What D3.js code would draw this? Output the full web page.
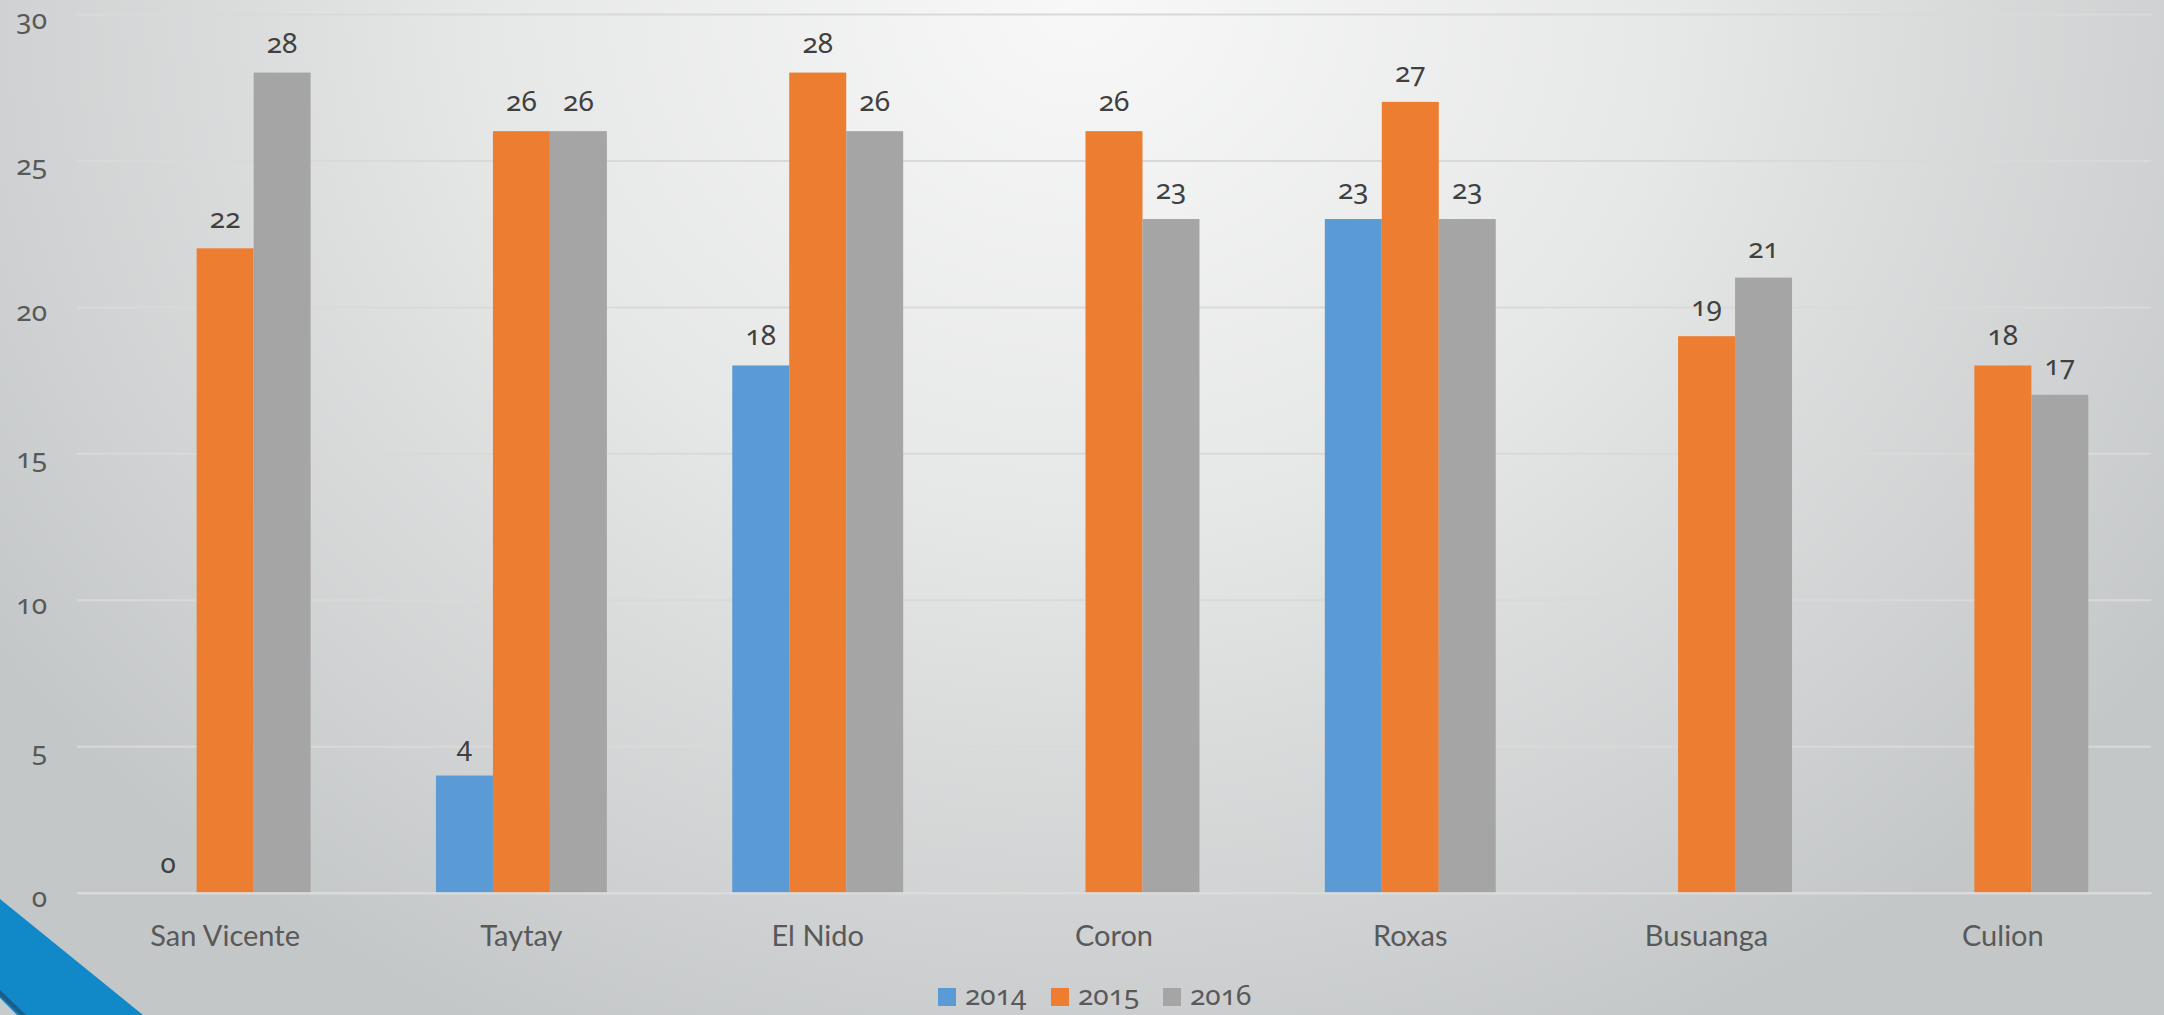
<!DOCTYPE html>
<html>
<head>
<meta charset="utf-8">
<script src="https://cdn.jsdelivr.net/npm/d3@7/dist/d3.min.js"></script>
<style>
  html, body { margin: 0; padding: 0; overflow: hidden; }
  svg { display: block; }
  text { font-family: Lato, "Noto Sans", sans-serif; }
  text.num { font-family: "Noto Sans", "Open Sans", sans-serif; font-variant-numeric: oldstyle-nums; font-feature-settings: "onum" 1; }
</style>
</head>
<body>
<script>
const categories = ["San Vicente", "Taytay", "El Nido", "Coron", "Roxas", "Busuanga", "Culion"];
const seriesNames = ["2014", "2015", "2016"];
const values2014 = [0, 4, 18, null, 23, null, null];
const values2015 = [22, 26, 28, 26, 27, 19, 18];
const values2016 = [28, 26, 26, 23, 23, 21, 17];
const yTicks = [0, 5, 10, 15, 20, 25, 30];
const colors = ["#5B9BD5", "#ED7D31", "#A5A5A5"];

const seriesValues = [values2014, values2015, values2016];
const W = 2164, H = 1015;
const plot = { left: 77, right: 2151, top: 14, bottom: 892.7 };

const svg = d3.select("body").append("svg").attr("width", W).attr("height", H);
const defs = svg.append("defs");
const grad = defs.append("radialGradient").attr("id", "bg")
  .attr("gradientUnits", "userSpaceOnUse")
  .attr("cx", W * 0.5).attr("cy", 0).attr("r", 1150)
  .attr("gradientTransform", `translate(${W*0.5},0) scale(1.15,1) translate(${-W*0.5},0)`);
grad.append("stop").attr("offset", "0%").attr("stop-color", "#f8f8f8");
grad.append("stop").attr("offset", "45%").attr("stop-color", "#e6e7e7");
grad.append("stop").attr("offset", "100%").attr("stop-color", "#c4c7c8");
svg.append("rect").attr("width", W).attr("height", H).attr("fill", "url(#bg)");

// corner decoration
svg.append("polygon").attr("points", "0,899 143,1015 0,1015").attr("fill", "#1188C8");
svg.append("polygon").attr("points", "0,990 26,1015 20,1015 0,996").attr("fill", "#1B5E88");
svg.append("polygon").attr("points", "0,998 17,1015 0,1015").attr("fill", "#c8cbcc");

const x0 = d3.scaleBand().domain(categories).range([plot.left, plot.right]).padding(0);
const x1 = d3.scaleBand().domain(seriesNames).range([0, x0.bandwidth()]).paddingInner(0).paddingOuter(1.1);
const y = d3.scaleLinear().domain([0, 30]).range([plot.bottom, plot.top]);

// gridlines + y labels
const yAxis = d3.axisLeft(y).tickValues(yTicks).tickSize(-(plot.right - plot.left)).tickPadding(30).tickFormat(d3.format("d"));
const gy = svg.append("g").attr("transform", `translate(${plot.left},0)`).call(yAxis);
gy.select(".domain").remove();
gy.selectAll(".tick line").attr("stroke", "#d9d9d9").attr("stroke-width", 2);
gy.selectAll(".tick text").attr("class", "num").attr("fill", "#595959").attr("font-size", 28).attr("dy", "0.5em");

// bars
const groups = svg.append("g").selectAll("g").data(categories).join("g")
  .attr("transform", d => `translate(${x0(d)},0)`);
groups.selectAll("rect").data((c, i) => seriesNames.map((s, j) => ({ s, v: seriesValues[j][i], j })))
  .join("rect")
  .filter(d => d.v !== null)
  .attr("x", d => x1(d.s)).attr("width", x1.bandwidth())
  .attr("y", d => y(d.v)).attr("height", d => y(0) - y(d.v))
  .attr("fill", d => colors[d.j]);
groups.selectAll("text.num").data((c, i) => seriesNames.map((s, j) => ({ s, v: seriesValues[j][i], j })).filter(d => d.v !== null))
  .join("text").attr("class", "num")
  .attr("x", d => x1(d.s) + x1.bandwidth() / 2)
  .attr("y", d => y(d.v) - 20)
  .attr("text-anchor", "middle").attr("fill", "#404040").attr("font-size", 28)
  .text(d => d.v);

// x axis
const xAxis = d3.axisBottom(x0).tickSize(0).tickPadding(0);
const gx = svg.append("g").attr("transform", `translate(0,${plot.bottom})`).call(xAxis);
gx.select(".domain").attr("stroke", "#dcdcdc").attr("stroke-width", 2);
gx.selectAll(".tick text").attr("fill", "#595959").attr("font-size", 29).attr("y", 53).attr("dy", 0);

// legend
const legendX = [938, 1051, 1163];
const lg = svg.append("g").selectAll("g").data(seriesNames).join("g")
  .attr("transform", (d, i) => `translate(${legendX[i]},988)`);
lg.append("rect").attr("width", 18).attr("height", 18).attr("fill", (d, i) => colors[i]);
lg.append("text").attr("class", "num").attr("x", 27).attr("y", 17).attr("fill", "#595959").attr("font-size", 28).text(d => d);
</script>
</body>
</html>
